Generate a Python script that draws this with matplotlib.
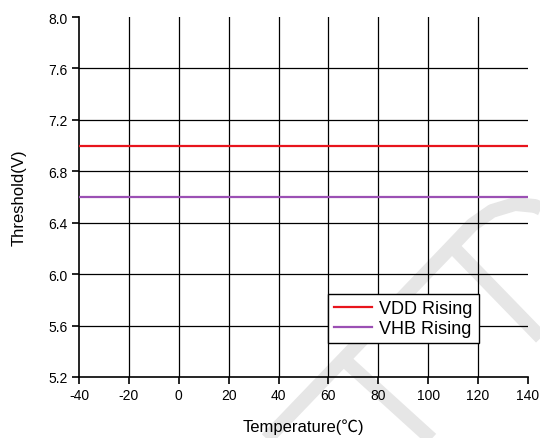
import matplotlib
matplotlib.use('Agg')
import matplotlib.pyplot as plt

plt.rcParams['font.family'] = ['Liberation Sans', 'Noto Sans CJK SC', 'DejaVu Sans']
plt.rcParams['axes.unicode_minus'] = False

# dane
temperature = [-40, -20, 0, 20, 40, 60, 80, 100, 120, 140]
vdd_rising = [7.0] * len(temperature)
vhb_rising = [6.6] * len(temperature)
x_ticks = [-40, -20, 0, 20, 40, 60, 80, 100, 120, 140]
y_ticks = [5.2, 5.6, 6.0, 6.4, 6.8, 7.2, 7.6, 8.0]

fig = plt.figure(figsize=(5.4, 4.39), dpi=100)

# znak wodny (tło, w pikselach)
bg = fig.add_axes([0, 0, 1, 1], zorder=-1)
bg.set_xlim(0, 540)
bg.set_ylim(439, 0)
bg.axis('off')
wm = '#e6e6e6'
bg.plot([262, 452, 472, 492, 515, 535, 550], [445, 247, 226, 212, 205, 207, 214],
        color=wm, lw=10, solid_capstyle='butt', solid_joinstyle='round')
bg.plot([452, 550], [247, 348], color=wm, lw=10, solid_capstyle='butt')
bg.plot([340, 437], [357, 445], color=wm, lw=10, solid_capstyle='butt')

ax = fig.add_axes([79 / 540, 1 - 378 / 439, 449 / 540, 360 / 439])
ax.set_facecolor('none')

ax.plot(temperature, vdd_rising, color='#e8141c', lw=1.6, label='VDD Rising', zorder=3)
ax.plot(temperature, vhb_rising, color='#9b50b4', lw=1.6, label='VHB Rising', zorder=3)

ax.set_xlim(-40, 140)
ax.set_ylim(5.2, 8.0)
ax.set_xticks(x_ticks)
ax.set_yticks(y_ticks)
ax.set_yticklabels([f'{v:.1f}' for v in y_ticks])

# siatka bez linii na krawędziach (140 i 8.0)
for xv in x_ticks[1:-1]:
    ax.axvline(xv, color='black', lw=0.9, zorder=1)
for yv in y_ticks[1:-1]:
    ax.axhline(yv, color='black', lw=0.9, zorder=1)

ax.spines['top'].set_visible(False)
ax.spines['right'].set_visible(False)
ax.spines['left'].set_linewidth(1.2)
ax.spines['bottom'].set_linewidth(1.2)
ax.tick_params(direction='out', length=5, width=1.2, labelsize=10, colors='black', pad=3)

ax.set_xlabel('Temperature(℃)', fontsize=12, labelpad=12)
ax.set_ylabel('Threshold(V)', fontsize=12, labelpad=16)

leg = ax.legend(loc='lower right', bbox_to_anchor=(0.891, 0.094), borderaxespad=0,
                fontsize=13, fancybox=False, framealpha=1, edgecolor='black',
                handlelength=2.1, handletextpad=0.4, borderpad=0.35, labelspacing=0.15)
leg.get_frame().set_linewidth(1.0)
leg.set_zorder(5)

plt.savefig('out.png', dpi=100)
